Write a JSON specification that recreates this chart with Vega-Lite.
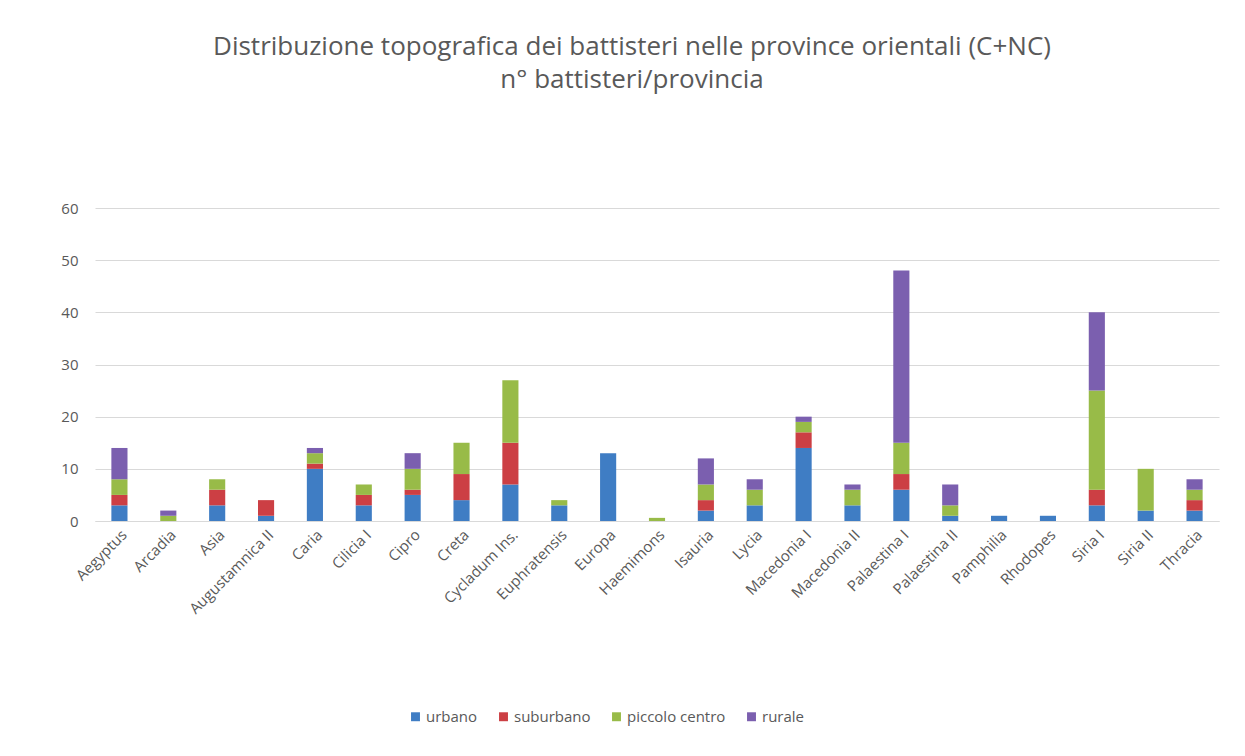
{
  "$schema": "https://vega.github.io/schema/vega-lite/v6.json",
  "autosize": "none",
  "width": 1124,
  "height": 313,
  "padding": {"left": 95, "top": 208, "right": 26, "bottom": 235},
  "background": "white",
  "title": {
    "text": ["Distribuzione topografica dei battisteri nelle province orientali (C+NC)", "n° battisteri/provincia"],
    "fontSize": 26,
    "font": "Open Sans",
    "fontWeight": "normal",
    "color": "#595959",
    "lineHeight": 33,
    "offset": 108,
    "dx": -25,
    "anchor": "middle"
  },
  "data": {
    "values": [
      {"p": "Aegyptus", "t": "urbano", "v": 3}, {"p": "Aegyptus", "t": "suburbano", "v": 2}, {"p": "Aegyptus", "t": "piccolo centro", "v": 3}, {"p": "Aegyptus", "t": "rurale", "v": 6},
      {"p": "Arcadia", "t": "piccolo centro", "v": 1}, {"p": "Arcadia", "t": "rurale", "v": 1},
      {"p": "Asia", "t": "urbano", "v": 3}, {"p": "Asia", "t": "suburbano", "v": 3}, {"p": "Asia", "t": "piccolo centro", "v": 2},
      {"p": "Augustamnica II", "t": "urbano", "v": 1}, {"p": "Augustamnica II", "t": "suburbano", "v": 3},
      {"p": "Caria", "t": "urbano", "v": 10}, {"p": "Caria", "t": "suburbano", "v": 1}, {"p": "Caria", "t": "piccolo centro", "v": 2}, {"p": "Caria", "t": "rurale", "v": 1},
      {"p": "Cilicia I", "t": "urbano", "v": 3}, {"p": "Cilicia I", "t": "suburbano", "v": 2}, {"p": "Cilicia I", "t": "piccolo centro", "v": 2},
      {"p": "Cipro", "t": "urbano", "v": 5}, {"p": "Cipro", "t": "suburbano", "v": 1}, {"p": "Cipro", "t": "piccolo centro", "v": 4}, {"p": "Cipro", "t": "rurale", "v": 3},
      {"p": "Creta", "t": "urbano", "v": 4}, {"p": "Creta", "t": "suburbano", "v": 5}, {"p": "Creta", "t": "piccolo centro", "v": 6},
      {"p": "Cycladum Ins.", "t": "urbano", "v": 7}, {"p": "Cycladum Ins.", "t": "suburbano", "v": 8}, {"p": "Cycladum Ins.", "t": "piccolo centro", "v": 12},
      {"p": "Euphratensis", "t": "urbano", "v": 3}, {"p": "Euphratensis", "t": "piccolo centro", "v": 1},
      {"p": "Europa", "t": "urbano", "v": 13},
      {"p": "Haemimons", "t": "piccolo centro", "v": 0.6},
      {"p": "Isauria", "t": "urbano", "v": 2}, {"p": "Isauria", "t": "suburbano", "v": 2}, {"p": "Isauria", "t": "piccolo centro", "v": 3}, {"p": "Isauria", "t": "rurale", "v": 5},
      {"p": "Lycia", "t": "urbano", "v": 3}, {"p": "Lycia", "t": "piccolo centro", "v": 3}, {"p": "Lycia", "t": "rurale", "v": 2},
      {"p": "Macedonia I", "t": "urbano", "v": 14}, {"p": "Macedonia I", "t": "suburbano", "v": 3}, {"p": "Macedonia I", "t": "piccolo centro", "v": 2}, {"p": "Macedonia I", "t": "rurale", "v": 1},
      {"p": "Macedonia II", "t": "urbano", "v": 3}, {"p": "Macedonia II", "t": "piccolo centro", "v": 3}, {"p": "Macedonia II", "t": "rurale", "v": 1},
      {"p": "Palaestina I", "t": "urbano", "v": 6}, {"p": "Palaestina I", "t": "suburbano", "v": 3}, {"p": "Palaestina I", "t": "piccolo centro", "v": 6}, {"p": "Palaestina I", "t": "rurale", "v": 33},
      {"p": "Palaestina II", "t": "urbano", "v": 1}, {"p": "Palaestina II", "t": "piccolo centro", "v": 2}, {"p": "Palaestina II", "t": "rurale", "v": 4},
      {"p": "Pamphilia", "t": "urbano", "v": 1},
      {"p": "Rhodopes", "t": "urbano", "v": 1},
      {"p": "Siria I", "t": "urbano", "v": 3}, {"p": "Siria I", "t": "suburbano", "v": 3}, {"p": "Siria I", "t": "piccolo centro", "v": 19}, {"p": "Siria I", "t": "rurale", "v": 15},
      {"p": "Siria II", "t": "urbano", "v": 2}, {"p": "Siria II", "t": "piccolo centro", "v": 8},
      {"p": "Thracia", "t": "urbano", "v": 2}, {"p": "Thracia", "t": "suburbano", "v": 2}, {"p": "Thracia", "t": "piccolo centro", "v": 2}, {"p": "Thracia", "t": "rurale", "v": 2}
    ]
  },
  "mark": {"type": "bar"},
  "encoding": {
    "x": {
      "field": "p", "type": "nominal", "sort": null, "title": null,
      "scale": {"paddingInner": 0.67, "paddingOuter": 0.335},
      "axis": {"labelAngle": -45, "labelAlign": "right", "labelBaseline": "top", "labelFontSize": 15, "labelFont": "Open Sans", "labelColor": "#595959", "ticks": false, "domainColor": "#d9d9d9", "labelPadding": 6}
    },
    "y": {
      "field": "v", "type": "quantitative", "stack": "zero", "title": null,
      "scale": {"domain": [0, 60]},
      "axis": {"values": [0, 10, 20, 30, 40, 50, 60], "labelFontSize": 15, "labelFont": "Open Sans", "labelColor": "#595959", "ticks": false, "domain": false, "gridColor": "#d9d9d9", "labelPadding": 17}
    },
    "color": {
      "field": "t", "type": "nominal", "title": null,
      "scale": {"domain": ["urbano", "suburbano", "piccolo centro", "rurale"], "range": ["#3f7dc4", "#cc3f44", "#98bb48", "#7b5faf"]},
      "legend": {"orient": "none", "legendX": 313, "legendY": 501, "direction": "horizontal", "symbolType": "square", "symbolSize": 80, "labelFontSize": 15, "labelFont": "Open Sans", "labelColor": "#595959", "columnPadding": 18, "labelOffset": 3, "symbolStrokeWidth": 0}
    },
    "order": {"field": "o", "type": "quantitative"}
  },
  "transform": [
    {"lookup": "t", "from": {"data": {"values": [{"t": "urbano", "o": 1}, {"t": "suburbano", "o": 2}, {"t": "piccolo centro", "o": 3}, {"t": "rurale", "o": 4}]}, "key": "t", "fields": ["o"]}}
  ],
  "config": {"view": {"stroke": null}}
}
